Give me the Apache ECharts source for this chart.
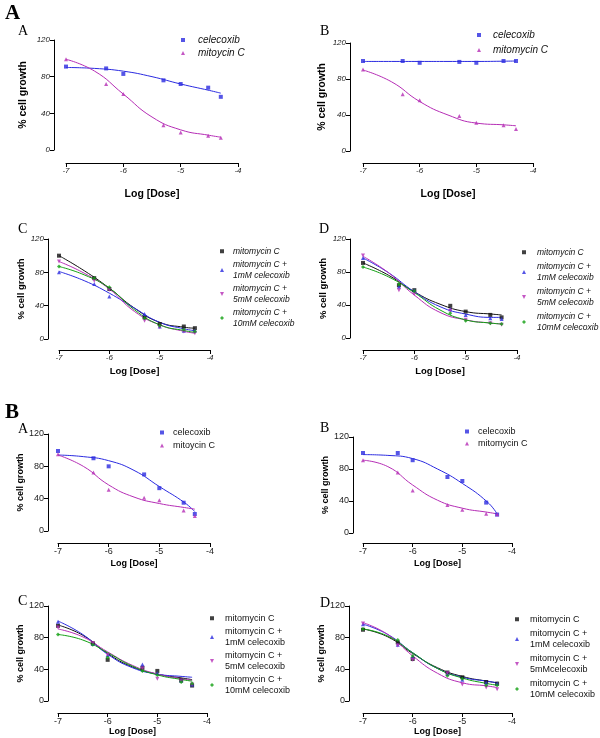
<!DOCTYPE html>
<html>
<head>
<meta charset="utf-8">
<script src="https://cdn.jsdelivr.net/npm/echarts@6/dist/echarts.min.js"></script>
<style>html,body{margin:0;background:#fff}#c{width:600px;height:738px}</style>
</head>
<body>
<div id="c"></div>
<script>
// log10 doses of the measured points and of the drawn fit curves
var doses = [-7, -6.3, -6, -5.3, -5, -4.52, -4.3];
var fitDoses = [-7, -6.5, -6, -5.5, -5, -4.5, -4.3];
var xTicks = [-7, -6, -5, -4];
var yTicks = [0, 40, 80, 120];

// figure A, panel A
var aaCel = [91, 89, 83, 76, 72, 68, 58];
var aaCelFit = [90, 89, 86, 80, 72, 65, 62];
var aaMit = [99, 72, 61, 27, 19, 15.5, 13.5];
var aaMitFit = [99, 86, 61, 36, 22, 16, 14];
// figure A, panel B
var abCel = [100, 100, 98, 99, 98, 100, 100];
var abCelFit = [99.5, 99.5, 99.5, 99.5, 99.5, 99.8, 100];
var abMit = [90.5, 63, 56.5, 39, 31.5, 28.5, 24.5];
var abMitFit = [90, 77, 55, 40, 31, 29, 28];
// figure A, panel C
var acMit = [100, 73, 60, 26, 18, 15, 13];
var acMit1 = [80, 66, 51, 30, 15, 10, 10];
var acMit5 = [93, 70, 59, 22, 14, 9, 7];
var acMit10 = [87, 73, 62, 25, 16, 11, 9];
var acMitFit = [100, 82, 61, 37, 20, 14, 13];
var acMit1Fit = [81, 70, 55, 37, 20, 12, 10];
var acMit5Fit = [93, 79, 60, 33, 17, 9, 7];
var acMit10Fit = [87, 77, 61, 35, 17, 10, 8];
// figure A, panel D
var adMit = [91, 64, 58, 39, 32, 28, 25];
var adMit1 = [97, 62, 58, 35, 28, 24, 23];
var adMit5 = [100, 58, 53, 33, 22, 18, 16];
var adMit10 = [86, 65, 57, 30, 21, 18, 17];
var adMitFit = [91, 76, 56, 41, 32, 29, 28];
var adMit1Fit = [97, 79, 56, 38, 29, 25, 25];
var adMit5Fit = [99, 79, 52, 31, 22, 18, 17];
var adMit10Fit = [86, 74, 55, 34, 22, 18, 17];
// figure B, panel A
var baCel = [99, 90, 80, 70, 53, 35, 21];
var baCelFit = [94, 92, 87, 75, 55, 35, 24];
var baMit = [95, 72.5, 51, 41, 38, 25.5, 18.5];
var baMitFit = [94, 80, 57, 42, 34, 29, 27];
// figure B, panel B
var bbCel = [100, 100, 91, 70, 65, 38, 23];
var bbCelFit = [98, 97, 93, 80, 62, 39, 24];
var bbMit = [91, 75.5, 53, 35, 29, 24, 23.5];
var bbMitFit = [91, 83, 60, 41, 31, 26, 24];
// figure B, panel C
var bcMit = [95, 73, 52, 42, 38, 26, 19.5];
var bcMit1 = [100, 72, 58, 46, 35, 26, 21];
var bcMit5 = [93, 73, 58, 41, 28, 25, 21];
var bcMit10 = [84, 71, 55, 38, 33, 24, 22];
var bcMitFit = [96, 83, 60, 43, 34, 29, 27];
var bcMit1Fit = [101, 84, 59, 42, 34, 31, 30];
var bcMit5Fit = [91, 81, 62, 45, 34, 28, 26];
var bcMit10Fit = [84, 77, 61, 44, 33, 27, 25];
// figure B, panel D
var bdMit = [90, 74, 53, 36, 30, 24, 22];
var bdMit1 = [97, 71, 56, 34, 27, 23, 22];
var bdMit5 = [98, 70, 52, 35, 21, 17, 15];
var bdMit10 = [91, 77, 57, 32, 28, 20, 20];
var bdMitFit = [91, 81, 60, 42, 31, 25, 23];
var bdMit1Fit = [97, 84, 61, 41, 30, 25, 23];
var bdMit5Fit = [99, 84, 57, 35, 23, 19, 17];
var bdMit10Fit = [91, 82, 61, 41, 29, 22, 20];

var BLUE = '#2a2ae0', MAG = '#b52db5', GRN = '#12a012', BLK = '#111';
var DOWN = 'path://M0,0L10,0L5,10Z';
var SANS = 'Liberation Sans, Arial, sans-serif';
var SERIF = 'Liberation Serif, Times New Roman, serif';

function pairs(xs, ys) {
  return xs.map(function (x, i) { return [x, ys[i]]; });
}

var two = function (celLabel, mitLabel, cel, celFit, mit, mitFit) {
  return [
    { label: celLabel, color: BLUE, symbol: 'rect', pts: cel, fit: celFit },
    { label: mitLabel, color: MAG, symbol: 'triangle', pts: mit, fit: mitFit }
  ];
};
var four = function (l5, m, m1, m5, m10, f, f1, f5, f10) {
  return [
    { label: 'mitomycin C', color: BLK, symbol: 'rect', pts: m, fit: f },
    { label: 'mitomycin C +\n1mM celecoxib', color: BLUE, symbol: 'triangle', pts: m1, fit: f1 },
    { label: 'mitomycin C +\n' + l5, color: MAG, symbol: DOWN, pts: m5, fit: f5 },
    { label: 'mitomycin C +\n10mM celecoxib', color: GRN, symbol: 'diamond', pts: m10, fit: f10 }
  ];
};

// leg: [marker centre x, top, marker-to-text gap, line height, item gap, font size]
var panels = [
  { box: [66, 40, 172, 110], yOff: 12, xOff: 13, yGap: 25, xGap: 26, italic: true, fs: 8, nfs: 10.5,
    letter: ['A', 18, 24], leg: [183, 34, 15, 12, 1, 10],
    sets: two('celecoxib', 'mitoycin C', aaCel, aaCelFit, aaMit, aaMitFit) },
  { box: [363, 43, 170, 108], yOff: 13, xOff: 12, yGap: 22, xGap: 26, italic: true, fs: 8, nfs: 10.5,
    letter: ['B', 320, 24], leg: [479, 29, 14, 12, 3, 10],
    sets: two('celecoxib', 'mitomycin C', abCel, abCelFit, abMit, abMitFit) },
  { box: [59, 239, 151, 100], yOff: 11, xOff: 11, yGap: 16, xGap: 16, italic: true, fs: 8, nfs: 9.5,
    letter: ['C', 18, 222], leg: [222, 246, 11, 10.5, 3, 8.5],
    sets: four('5mM celecoxib', acMit, acMit1, acMit5, acMit10, acMitFit, acMit1Fit, acMit5Fit, acMit10Fit) },
  { box: [363, 239, 154, 99], yOff: 13, xOff: 12, yGap: 17, xGap: 16, italic: true, fs: 8, nfs: 9.5,
    letter: ['D', 319, 222], leg: [524, 247, 13, 10.5, 4, 8.5],
    sets: four('5mM celecoxib', adMit, adMit1, adMit5, adMit10, adMitFit, adMit1Fit, adMit5Fit, adMit10Fit) },
  { box: [58, 434, 152, 97], yOff: 10, xOff: 12, yGap: 22, xGap: 16, italic: false, fs: 9, nfs: 9,
    letter: ['A', 18, 422], leg: [162, 427, 11, 11, 2, 9],
    sets: two('celecoxib', 'mitoycin C', baCel, baCelFit, baMit, baMitFit) },
  { box: [363, 437, 149, 96], yOff: 10, xOff: 10, yGap: 21, xGap: 16, italic: false, fs: 9, nfs: 9,
    letter: ['B', 320, 421], leg: [467, 426, 11, 11, 1, 9],
    sets: two('celecoxib', 'mitomycin C', bbCel, bbCelFit, bbMit, bbMitFit) },
  { box: [58, 606, 149, 95], yOff: 10, xOff: 12, yGap: 22, xGap: 14, italic: false, fs: 9, nfs: 9,
    letter: ['C', 18, 594], leg: [212, 613, 13, 10.5, 3, 9],
    sets: four('5mM celecoxib', bcMit, bcMit1, bcMit5, bcMit10, bcMitFit, bcMit1Fit, bcMit5Fit, bcMit10Fit) },
  { box: [363, 606, 149, 95], yOff: 14, xOff: 12, yGap: 16, xGap: 14, italic: false, fs: 9, nfs: 9,
    letter: ['D', 320, 596], leg: [517, 614, 13, 10.5, 4, 9],
    sets: four('5mMcelecoxib', bdMit, bdMit1, bdMit5, bdMit10, bdMitFit, bdMit1Fit, bdMit5Fit, bdMit10Fit) }
];

var grid = [], xAxis = [], yAxis = [], series = [], legend = [], labels = {};
var graphic = [
  { type: 'text', left: 5, top: 3, style: { text: 'A', font: 'bold 21px ' + SERIF, fill: '#000' } },
  { type: 'text', left: 5, top: 402, style: { text: 'B', font: 'bold 21px ' + SERIF, fill: '#000' } }
];

panels.forEach(function (p, i) {
  var axisCommon = {
    gridIndex: i, type: 'value',
    nameLocation: 'middle',
    nameTextStyle: { fontWeight: 'bold', fontSize: p.nfs, color: '#000', fontFamily: SANS },
    axisLine: { onZero: false, lineStyle: { color: '#000', width: 1 } },
    axisTick: { length: 4, lineStyle: { color: '#000' } },
    axisLabel: { fontSize: p.fs, fontStyle: p.italic ? 'italic' : 'normal', color: '#222', fontFamily: SANS, margin: 4 },
    splitLine: { show: false }
  };
  grid.push({ left: p.box[0], top: p.box[1], width: p.box[2], height: p.box[3] });
  xAxis.push(Object.assign({}, axisCommon, {
    min: xTicks[0], max: xTicks[xTicks.length - 1], interval: xTicks[1] - xTicks[0],
    offset: p.xOff, name: 'Log [Dose]', nameGap: p.xGap
  }));
  yAxis.push(Object.assign({}, axisCommon, {
    min: yTicks[0], max: yTicks[yTicks.length - 1], interval: yTicks[1] - yTicks[0],
    offset: p.yOff, name: '% cell growth', nameGap: p.yGap
  }));
  var keys = [];
  p.sets.forEach(function (s, j) {
    var key = 'p' + i + 's' + j;
    labels[key] = s.label;
    keys.push(key);
    series.push({
      type: 'line', xAxisIndex: i, yAxisIndex: i, data: pairs(fitDoses, s.fit),
      smooth: 0.5, showSymbol: false, silent: true, z: 2,
      lineStyle: { width: 1, color: s.color }
    });
    series.push({
      type: 'scatter', name: key, xAxisIndex: i, yAxisIndex: i, data: pairs(doses, s.pts),
      symbol: s.symbol, symbolSize: 4, z: 3, itemStyle: { color: s.color }
    });
  });
  legend.push({
    orient: 'vertical', left: p.leg[0] - 2, top: p.leg[1], padding: 0,
    itemWidth: 4, itemHeight: 4, itemGap: p.leg[4], data: keys,
    formatter: function (n) { return labels[n]; },
    textStyle: { fontSize: p.leg[5], lineHeight: p.leg[3], fontStyle: p.italic ? 'italic' : 'normal',
      color: '#111', fontFamily: SANS, padding: [0, 0, 0, p.leg[2] - 7] }
  });
  graphic.push({ type: 'text', left: p.letter[1], top: p.letter[2],
    style: { text: p.letter[0], font: '14px ' + SERIF, fill: '#000' } });
});

var chart = echarts.init(document.getElementById('c'));
chart.setOption({
  animation: false,
  grid: grid, xAxis: xAxis, yAxis: yAxis,
  series: series, legend: legend, graphic: graphic
});
</script>
</body>
</html>
